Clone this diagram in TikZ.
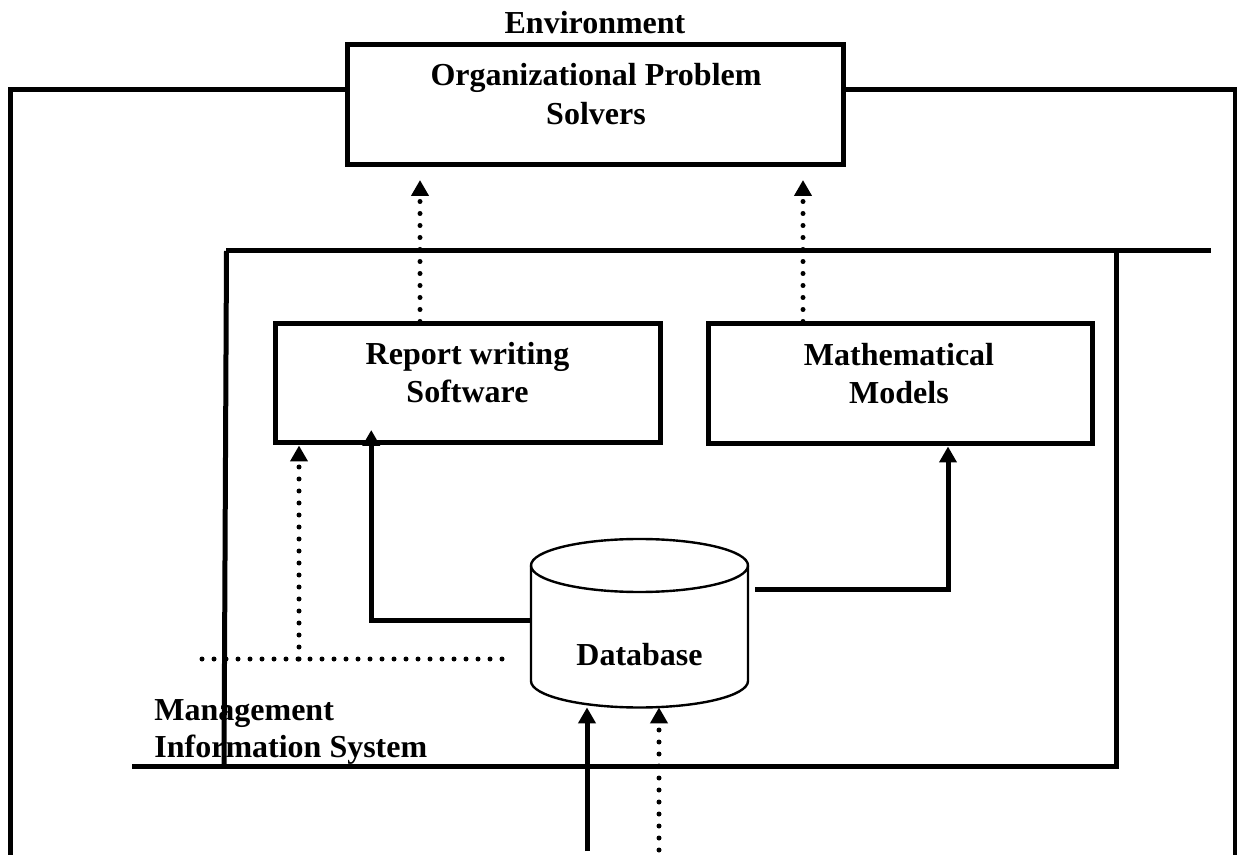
\documentclass[tikz,border=0pt]{standalone}
\usepackage{fontspec}
\setmainfont{Liberation Serif}
\usetikzlibrary{arrows.meta}
\begin{document}
\begin{tikzpicture}[x=0.5pt,y=-0.5pt,
  frame/.style={line width=2.5pt},
  box/.style={draw, line width=2.5pt, rectangle, inner sep=0pt},
  lbl/.style={font=\fontsize{16}{19}\selectfont\bfseries, inner sep=0pt, anchor=base},
  tip/.style={-{Triangle[width=8.5pt,length=8pt]}},
  solidarr/.style={line width=2.5pt, tip},
  dotline/.style={line width=2.5pt, line cap=round, dash pattern=on 0pt off 6pt},
  dotarr/.style={dotline, tip},
  cyl/.style={line width=1.2pt}]
\useasboundingbox (0,0) rectangle (1237,855);

% boxes
\node[box, minimum width=248.25pt, minimum height=60pt] (ops) at (595.25,104.5) {};
\node[box, minimum width=192.25pt, minimum height=59.5pt] (rws) at (467.75,383.5) {};
\node[box, minimum width=192pt, minimum height=60pt] (mm) at (900,384) {};

% database body (area of the cylinder)
\node[inner sep=0pt, minimum width=108.5pt, minimum height=84pt] (db) at (639.5,623) {};
\draw[cyl] (639.5,565.5) ellipse [x radius=54.25pt, y radius=13.25pt];
\draw[cyl] (531,565.5) -- (531,681)
  arc[start angle=180, end angle=360, x radius=54.25pt, y radius=13.25pt] -- (748,565.5);

% texts
\node[lbl] (env) at (595,34) {Environment};
\node[lbl] (ops1) at (596,86) {Organizational Problem};
\node[lbl] (ops2) at (596,125) {Solvers};
\node[lbl] (rws1) at (467.5,365) {Report writing};
\node[lbl] (rws2) at (467.5,403) {Software};
\node[lbl] (mm1) at (899,366) {Mathematical};
\node[lbl] (mm2) at (899,404) {Models};
\node[lbl] (dbtxt) at (639.5,665) {Database};
\node[lbl, anchor=base west] (mis1) at (154,720) {Management};
\node[lbl, anchor=base west] (mis2) at (154,757) {Information System};

% environment frame
\draw[frame] (ops.west |- 0,89.5) -- (10.5,89.5) -- (10.5,870);
\draw[frame] (ops.east |- 0,89.5) -- (1235,89.5) -- (1235,870);

% MIS frame
\draw[frame] (226,251) -- (1211,251);
\draw[frame] (226.5,251) -- (224,766);
\draw[frame] (132,766) -- (1116,766) -- (1116,251);

% helper coordinates
\coordinate (xa) at (420,0);
\coordinate (xb) at (803,0);
\coordinate (xc) at (299,0);
\coordinate (dl) at (202,659);
\coordinate (dr) at (503,659);
\coordinate (in1) at (587,851);
\coordinate (in2) at (659,862);

% information flows to the problem solvers
\draw[dotarr, shorten >=6.5pt] (rws.north -| xa) -- (ops.south -| xa);
\draw[dotarr, shorten >=6.5pt] (mm.north -| xb) -- (ops.south -| xb);

% database to report software and models
\draw[solidarr] ([yshift=1.5pt]db.west) -| ([xshift=-48.25pt, yshift=7.75pt]rws.south);
\draw[solidarr] ([xshift=3.5pt, yshift=17pt]db.east) -| ([xshift=24pt]mm.south);

% dotted feed line
\draw[dotline] (dl) -- (dr);
\draw[dotarr] (xc |- dl) -- (rws.south -| xc);

% inputs to the database
\draw[solidarr] (in1) -- (in1 |- db.south);
\draw[dotarr] (in2) -- (in2 |- db.south);
\end{tikzpicture}
\end{document}
